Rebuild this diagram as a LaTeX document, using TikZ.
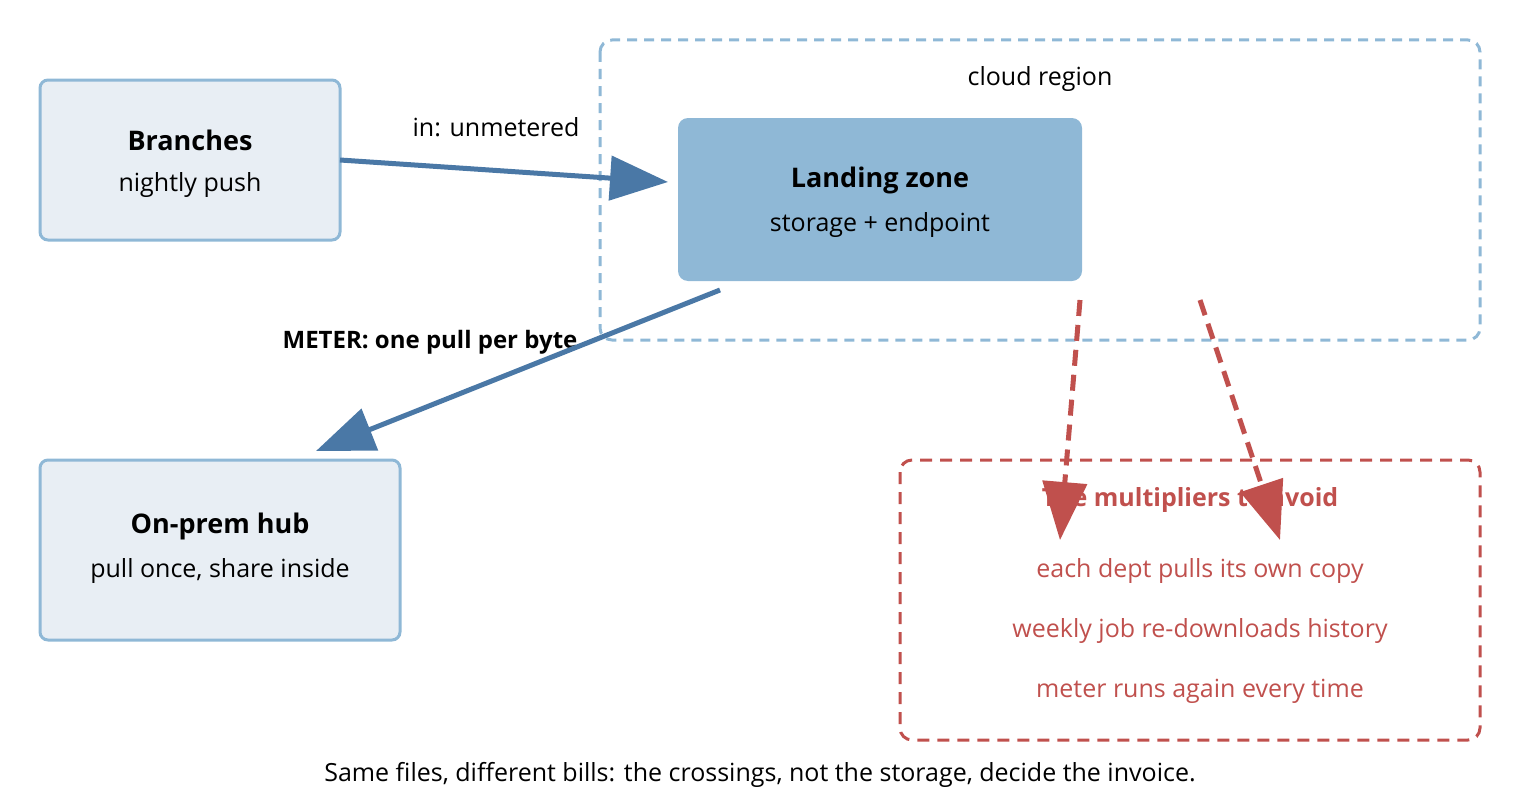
\documentclass[tikz,border=0pt]{standalone}
\usepackage{fontspec}
\setmainfont{Open Sans}
\usetikzlibrary{arrows.meta}
\definecolor{bl}{HTML}{8FB8D6}
\definecolor{lf}{HTML}{E8EEF4}
\definecolor{ar}{HTML}{4A78A6}
\definecolor{rd}{HTML}{C0504D}
\tikzset{
 box/.style={draw=bl,line width=3pt,fill=lf,rounded corners=8pt},
 txt/.style={font=\fontsize{25}{28}\selectfont,align=center},
 big/.style={font=\fontsize{27}{30}\selectfont\bfseries},
 barrow/.style={draw=ar,line width=5pt,-{Triangle[length=58pt,width=44pt]}},
 rarrow/.style={draw=rd,line width=5pt,dash pattern=on 16pt off 9pt,-{Triangle[length=58pt,width=44pt]}},
}
\begin{document}
\begin{tikzpicture}[x=1pt,y=-1pt]
\useasboundingbox (0,0) rectangle (1520,800);
\draw[bl,line width=3pt,dash pattern=on 10pt off 7pt,rounded corners=12pt] (600,40) rectangle (1480,340);
\node[txt] (cr) at (1040,79) {cloud region};
\draw[rd,line width=3pt,dash pattern=on 12pt off 8pt,rounded corners=12pt] (900,460) rectangle (1480,740);
\draw[box] (40,80) rectangle (340,240);
\node[big] (br) at (190,140) {Branches};
\node[txt] (brs) at (190,185) {nightly push};
\draw[box] (40,460) rectangle (400,640);
\node[big] (op) at (220,526) {On-prem hub};
\node[txt] (ops) at (220,571) {pull once, share inside};
\fill[bl,rounded corners=10pt] (678,118) rectangle (1082,281);
\node[big] (lz) at (880,180) {Landing zone};
\node[txt] (lzs) at (880,225) {storage + endpoint};
\node[text=rd,font=\fontsize{25}{28}\selectfont\bfseries] (mt) at (1190,500) {The multipliers to avoid};
\node[txt,text=rd] (m1) at (1200,571) {each dept pulls its own copy};
\node[txt,text=rd] (m2) at (1200,631) {weekly job re-downloads history};
\node[txt,text=rd] (m3) at (1200,691) {meter runs again every time};
\node[txt] (l1) at (496,127) {in: unmetered};
\node[txt,font=\fontsize{24}{26}\selectfont\bfseries] (l2) at (430,342) {METER: one pull per byte};
\node[txt] (cap) at (760,775) {Same files, different bills: the crossings, not the storage, decide the invoice.};
\coordinate (a1) at (340,160); \coordinate (a2) at (668,182);
\coordinate (b1) at (720,290); \coordinate (b2) at (316,451);
\coordinate (c1) at (1080,300); \coordinate (c2) at (1060,540);
\coordinate (d1) at (1200,300); \coordinate (d2) at (1280,540);
\draw[barrow] (a1) -- (a2);
\draw[barrow] (b1) -- (b2);
\draw[rarrow] (c1) -- (c2);
\draw[rarrow] (d1) -- (d2);
\end{tikzpicture}
\end{document}
